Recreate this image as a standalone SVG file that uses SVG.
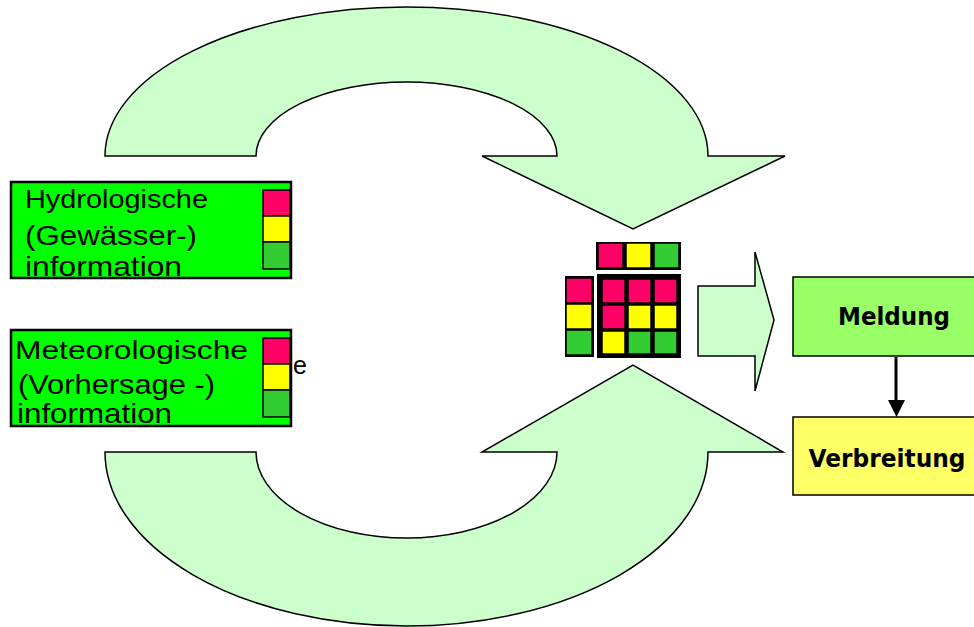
<svg xmlns="http://www.w3.org/2000/svg" width="974" height="627" viewBox="0 0 974 627">
  <style>
    .flow { fill: #CCFFCC; stroke: #000; stroke-width: 1.5; stroke-linejoin: miter; }
    .src { fill: #00FF00; stroke: #000; stroke-width: 2.5; }
    .lbl { font-family: "Liberation Sans", Arial, sans-serif; font-size: 25px; fill: #000; }
    .l1 { font-size: 26px; }
    .l2 { font-size: 27px; }
    .l3 { font-size: 28px; }
    .bold { font-family: "DejaVu Sans", Verdana, sans-serif; font-weight: bold; font-size: 24px; fill: #000; text-anchor: middle; }
    .r { fill: #FF0066; stroke: #000; stroke-width: 1.5; }
    .y { fill: #FFFF00; stroke: #000; stroke-width: 1.5; }
    .g { fill: #33CC33; stroke: #000; stroke-width: 1.5; }
  </style>

  <!-- curved flow arrows -->
  <g id="arrow-top">
    <path class="flow" d="M105,156 A301.5,149 0 0 1 708,156 L785,156 L633,229 L482,156 L557,156 A150.5,74 0 0 0 256,156 Z"/>
  </g>
  <g id="arrow-bottom">
    <path class="flow" d="M105,452 A301.5,174 0 0 0 708,452 L783,452 L633,365 L482,452 L557,452 A150.5,86 0 0 1 256,452 Z"/>
  </g>

  <!-- hydrological information source -->
  <g id="hydro">
    <rect class="src" x="11" y="182" width="280" height="96"/>
    <text class="lbl l1" x="25" y="208" textLength="183" lengthAdjust="spacingAndGlyphs">Hydrologische</text>
    <text class="lbl l2" x="25" y="245" textLength="172" lengthAdjust="spacingAndGlyphs">(Gewässer-)</text>
    <text class="lbl l3" x="25" y="276" textLength="157" lengthAdjust="spacingAndGlyphs">information</text>
    <rect class="r" x="263" y="190" width="27" height="26"/>
    <rect class="y" x="263" y="216" width="27" height="26"/>
    <rect class="g" x="263" y="242" width="27" height="27"/>
  </g>

  <!-- meteorological information source -->
  <g id="meteo">
    <rect class="src" x="11" y="330" width="280" height="96"/>
    <text class="lbl l1" x="15" y="359" textLength="233" lengthAdjust="spacingAndGlyphs">Meteorologische</text>
    <text class="lbl l2" x="18" y="394" textLength="197" lengthAdjust="spacingAndGlyphs">(Vorhersage -)</text>
    <text class="lbl l3" x="17" y="423" textLength="155" lengthAdjust="spacingAndGlyphs">information</text>
    <rect class="r" x="263" y="338" width="27" height="26"/>
    <rect class="y" x="263" y="364" width="27" height="26"/>
    <rect class="g" x="263" y="390" width="27" height="27"/>
    <text class="lbl" x="293" y="374" font-size="26">e</text>
  </g>

  <!-- warning matrix -->
  <g id="matrix">
    <rect x="596" y="242" width="85" height="28" fill="#000"/>
    <rect class="r" x="598" y="243" width="25" height="25"/>
    <rect class="y" x="626" y="243" width="25" height="25"/>
    <rect class="g" x="654" y="243" width="25" height="25"/>

    <rect x="565" y="276" width="29" height="81" fill="#000"/>
    <rect class="r" x="566" y="278" width="26" height="25"/>
    <rect class="y" x="566" y="304" width="26" height="25"/>
    <rect class="g" x="566" y="330" width="26" height="25"/>

    <rect x="597" y="274" width="84" height="84" fill="#000"/>
    <rect class="r" x="602" y="279" width="23" height="24"/>
    <rect class="r" x="628" y="279" width="23" height="24"/>
    <rect class="r" x="654" y="279" width="23" height="24"/>
    <rect class="r" x="602" y="305" width="23" height="24"/>
    <rect class="y" x="628" y="305" width="23" height="24"/>
    <rect class="y" x="654" y="305" width="23" height="24"/>
    <rect class="y" x="602" y="331" width="23" height="23"/>
    <rect class="g" x="628" y="331" width="23" height="23"/>
    <rect class="g" x="654" y="331" width="23" height="23"/>
  </g>

  <!-- block arrow towards the warning -->
  <g id="arrow-right">
    <path class="flow" d="M698,286 L755,286 L755,252 L774,320 L755,391 L755,356 L698,356 Z"/>
  </g>

  <g id="meldung">
    <rect x="793" y="277" width="190" height="79" fill="#99FF66" stroke="#000" stroke-width="1.5"/>
    <text class="bold" x="894" y="325" textLength="112" lengthAdjust="spacingAndGlyphs">Meldung</text>
  </g>

  <g id="verbreitung">
    <rect x="793" y="417" width="190" height="78" fill="#FFFF66" stroke="#000" stroke-width="1.5"/>
    <text class="bold" x="887" y="467" textLength="157" lengthAdjust="spacingAndGlyphs">Verbreitung</text>
  </g>

  <!-- connectors -->
  <g id="connectors">
    <line x1="896" y1="357" x2="896" y2="402" stroke="#000" stroke-width="3"/>
    <path d="M888,400 L905,400 L896.5,417 Z" fill="#000"/>
  </g>
</svg>
